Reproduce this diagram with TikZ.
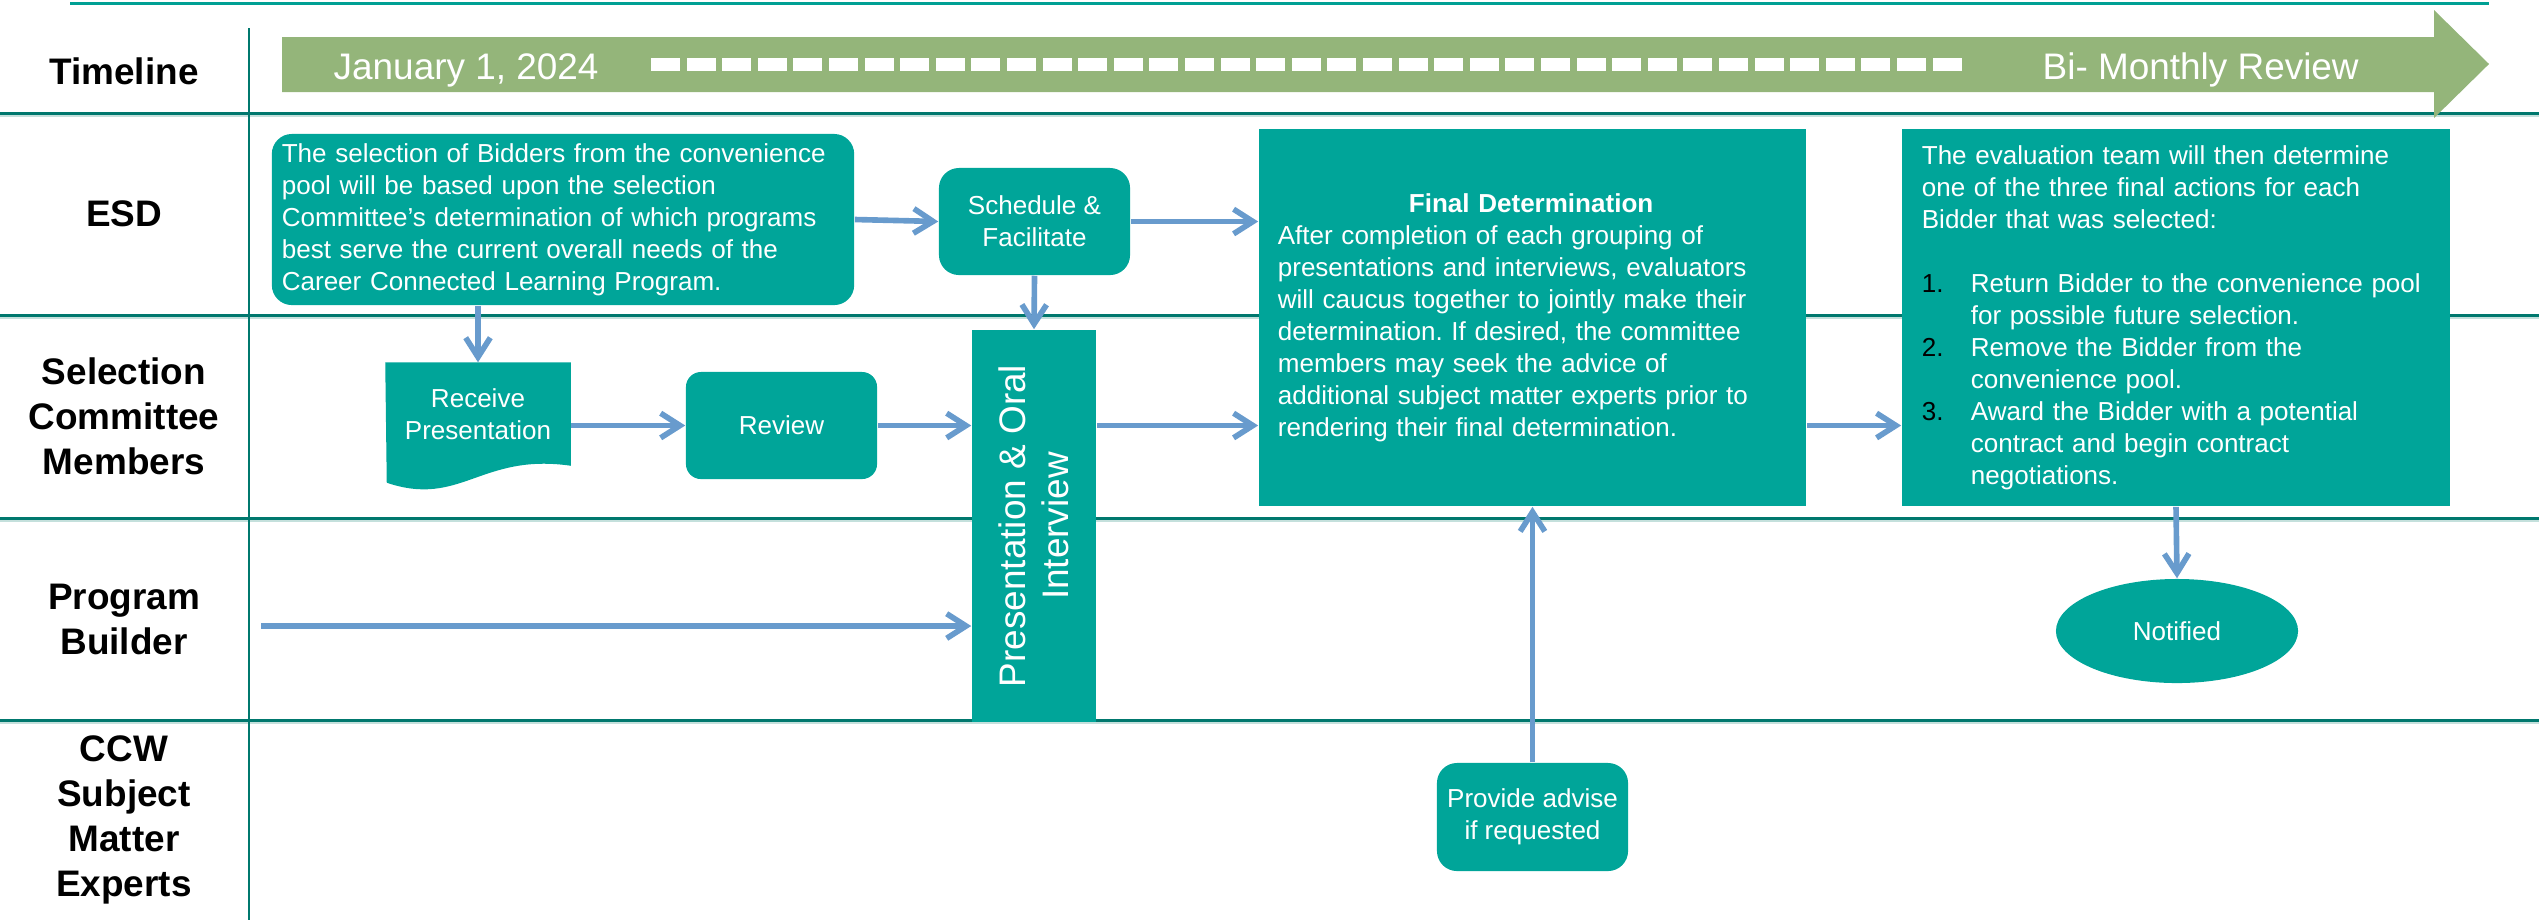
\documentclass[tikz,border=0pt]{standalone}
\usepackage{fontspec}
\setmainfont{Liberation Sans}
\usetikzlibrary{arrows.meta,shapes.geometric,backgrounds}
\definecolor{boxteal}{RGB}{0,165,153}
\definecolor{flowblue}{RGB}{104,155,205}
\definecolor{laneteal}{RGB}{0,120,110}
\definecolor{lanelight}{RGB}{196,224,220}
\definecolor{topteal}{RGB}{0,160,148}
\definecolor{timegreen}{RGB}{148,181,122}
\frenchspacing
\begin{document}
\begin{tikzpicture}[x=0.01cm,y=-0.01cm,
  lanename/.style={align=center,font=\fontsize{10.5}{12.8}\selectfont\bfseries},
  stepbox/.style={fill=boxteal,text=white,inner sep=0pt,align=center,font=\fontsize{7.4}{9.1}\selectfont},
  roundbox/.style={stepbox,rounded corners=0.2cm},
  datetext/.style={anchor=base west,text=white,inner sep=0pt,font=\fontsize{10.5}{12.6}\selectfont},
  flow/.style={draw=flowblue,line width=1.6pt,-{Straight Barb[length=5.5pt,width=7pt]}},
  lane/.style={draw=laneteal,line width=0.85pt}]
\useasboundingbox (0,0) rectangle (2539,920);

\draw[topteal,line width=1.1pt] (70,3.5) -- (2489,3.5);
\foreach \y in {113,315,518,720} {
  \draw[lane] (0,\y) -- (2539,\y);
  \draw[lanelight,line width=0.6pt] (0,\y+3) -- (2539,\y+3);
}
\draw[laneteal,line width=0.7pt] (249,28) -- (249,920);

\node[lanename] (tlLabel) at (124,71) {Timeline};
\node[lanename] (esdLabel) at (124,214) {ESD};
\node[lanename] (selLabel) at (124,416) {Selection\\Committee\\Members};
\node[lanename] (pbLabel) at (124,619) {Program\\Builder};
\node[lanename] (ccwLabel) at (124,820) {CCW\\Subject\\Matter\\Experts};

\fill[timegreen] (282,37) -- (2434,37) -- (2434,10) -- (2489,64) -- (2434,118) -- (2434,92) -- (282,92) -- cycle;
\node[datetext] (startDate) at (333,79) {January 1, 2024};
\foreach \i in {0,...,36}
  \fill[white] ({651+35.6*\i},58) rectangle +(29,13);
\node[datetext] (reviewDate) at (2042,79) {Bi- Monthly Review};

\node[roundbox,minimum width=5.82cm,minimum height=1.71cm,text width=5.62cm,align=left] (esd) at (563,219.5) {The selection of Bidders from the convenience\\pool will be based upon the selection\\Committee's determination of which programs\\best serve the current overall needs of the\\Career Connected Learning Program.};
\node[roundbox,minimum width=1.91cm,minimum height=1.07cm] (schedule) at (1034.5,221.5) {Schedule \&\\Facilitate};
\node[stepbox,fill=none,minimum width=1.84cm,minimum height=1.02cm] (rcv) at (478,414) {Receive\\Presentation};
\begin{scope}[on background layer]
\fill[boxteal] (rcv.north west) -- (rcv.north east) -- (rcv.south east) .. controls +(-90,-13) and +(74,25) .. ++(-184,17) -- cycle;
\end{scope}
\node[roundbox,rounded corners=0.15cm,minimum width=1.91cm,minimum height=1.07cm] (review) at (781.5,425.5) {Review};
\node[stepbox,minimum width=1.24cm,minimum height=3.92cm] (pres) at (1034,526) {};
\node[rotate=90,text=white,align=center,font=\fontsize{10.5}{12.3}\selectfont] (presText) at (pres.center) {Presentation \& Oral\\Interview};
\node[stepbox,minimum width=5.47cm,minimum height=3.77cm,text width=5.09cm,align=left] (finalDet) at (1532.5,317.5) {\hspace*{1.31cm}\textbf{Final Determination}\\After completion of each grouping of\\presentations and interviews, evaluators\\will caucus together to jointly make their\\determination. If desired, the committee\\members may seek the advice of\\additional subject matter experts prior to\\rendering their final determination.};
\node[stepbox,minimum width=5.48cm,minimum height=3.77cm,text width=5.08cm,align=left] (evalBox) at (2176,317.5) {The evaluation team will then determine\\one of the three final actions for each\\Bidder that was selected:\\[9.1pt]
\makebox[0.49cm][l]{\color{black}1.}Return Bidder to the convenience pool\\
\hspace*{0.49cm}for possible future selection.\\
\makebox[0.49cm][l]{\color{black}2.}Remove the Bidder from the\\
\hspace*{0.49cm}convenience pool.\\
\makebox[0.49cm][l]{\color{black}3.}Award the Bidder with a potential\\
\hspace*{0.49cm}contract and begin contract\\
\hspace*{0.49cm}negotiations.};
\node[stepbox,ellipse,minimum width=2.42cm,minimum height=1.04cm] (notified) at (2177,631) {Notified};
\node[roundbox,minimum width=1.91cm,minimum height=1.08cm] (advise) at (1532.5,817) {Provide advise\\if requested};

\coordinate (pbStart) at (261,626);
\draw[flow] (esd.east) -- (schedule.west);
\draw[flow] (schedule.east) -- (schedule.east -| finalDet.west);
\draw[flow] (schedule.south) -- (pres.north);
\draw[flow] (rcv.north |- esd.south) -- (rcv.north);
\draw[flow] (rcv.east |- review.west) -- (review.west);
\draw[flow] (review.east) -- (review.east -| pres.west);
\draw[flow] (pres.east |- review.east) -- (finalDet.west |- review.east);
\draw[flow] (finalDet.east |- review.east) -- (evalBox.west |- review.east);
\draw[flow] (pbStart) -- (pbStart -| pres.west);
\draw[flow] (advise.north) -- (finalDet.south);
\draw[flow] (evalBox.south) -- (notified.north);
\end{tikzpicture}
\end{document}
